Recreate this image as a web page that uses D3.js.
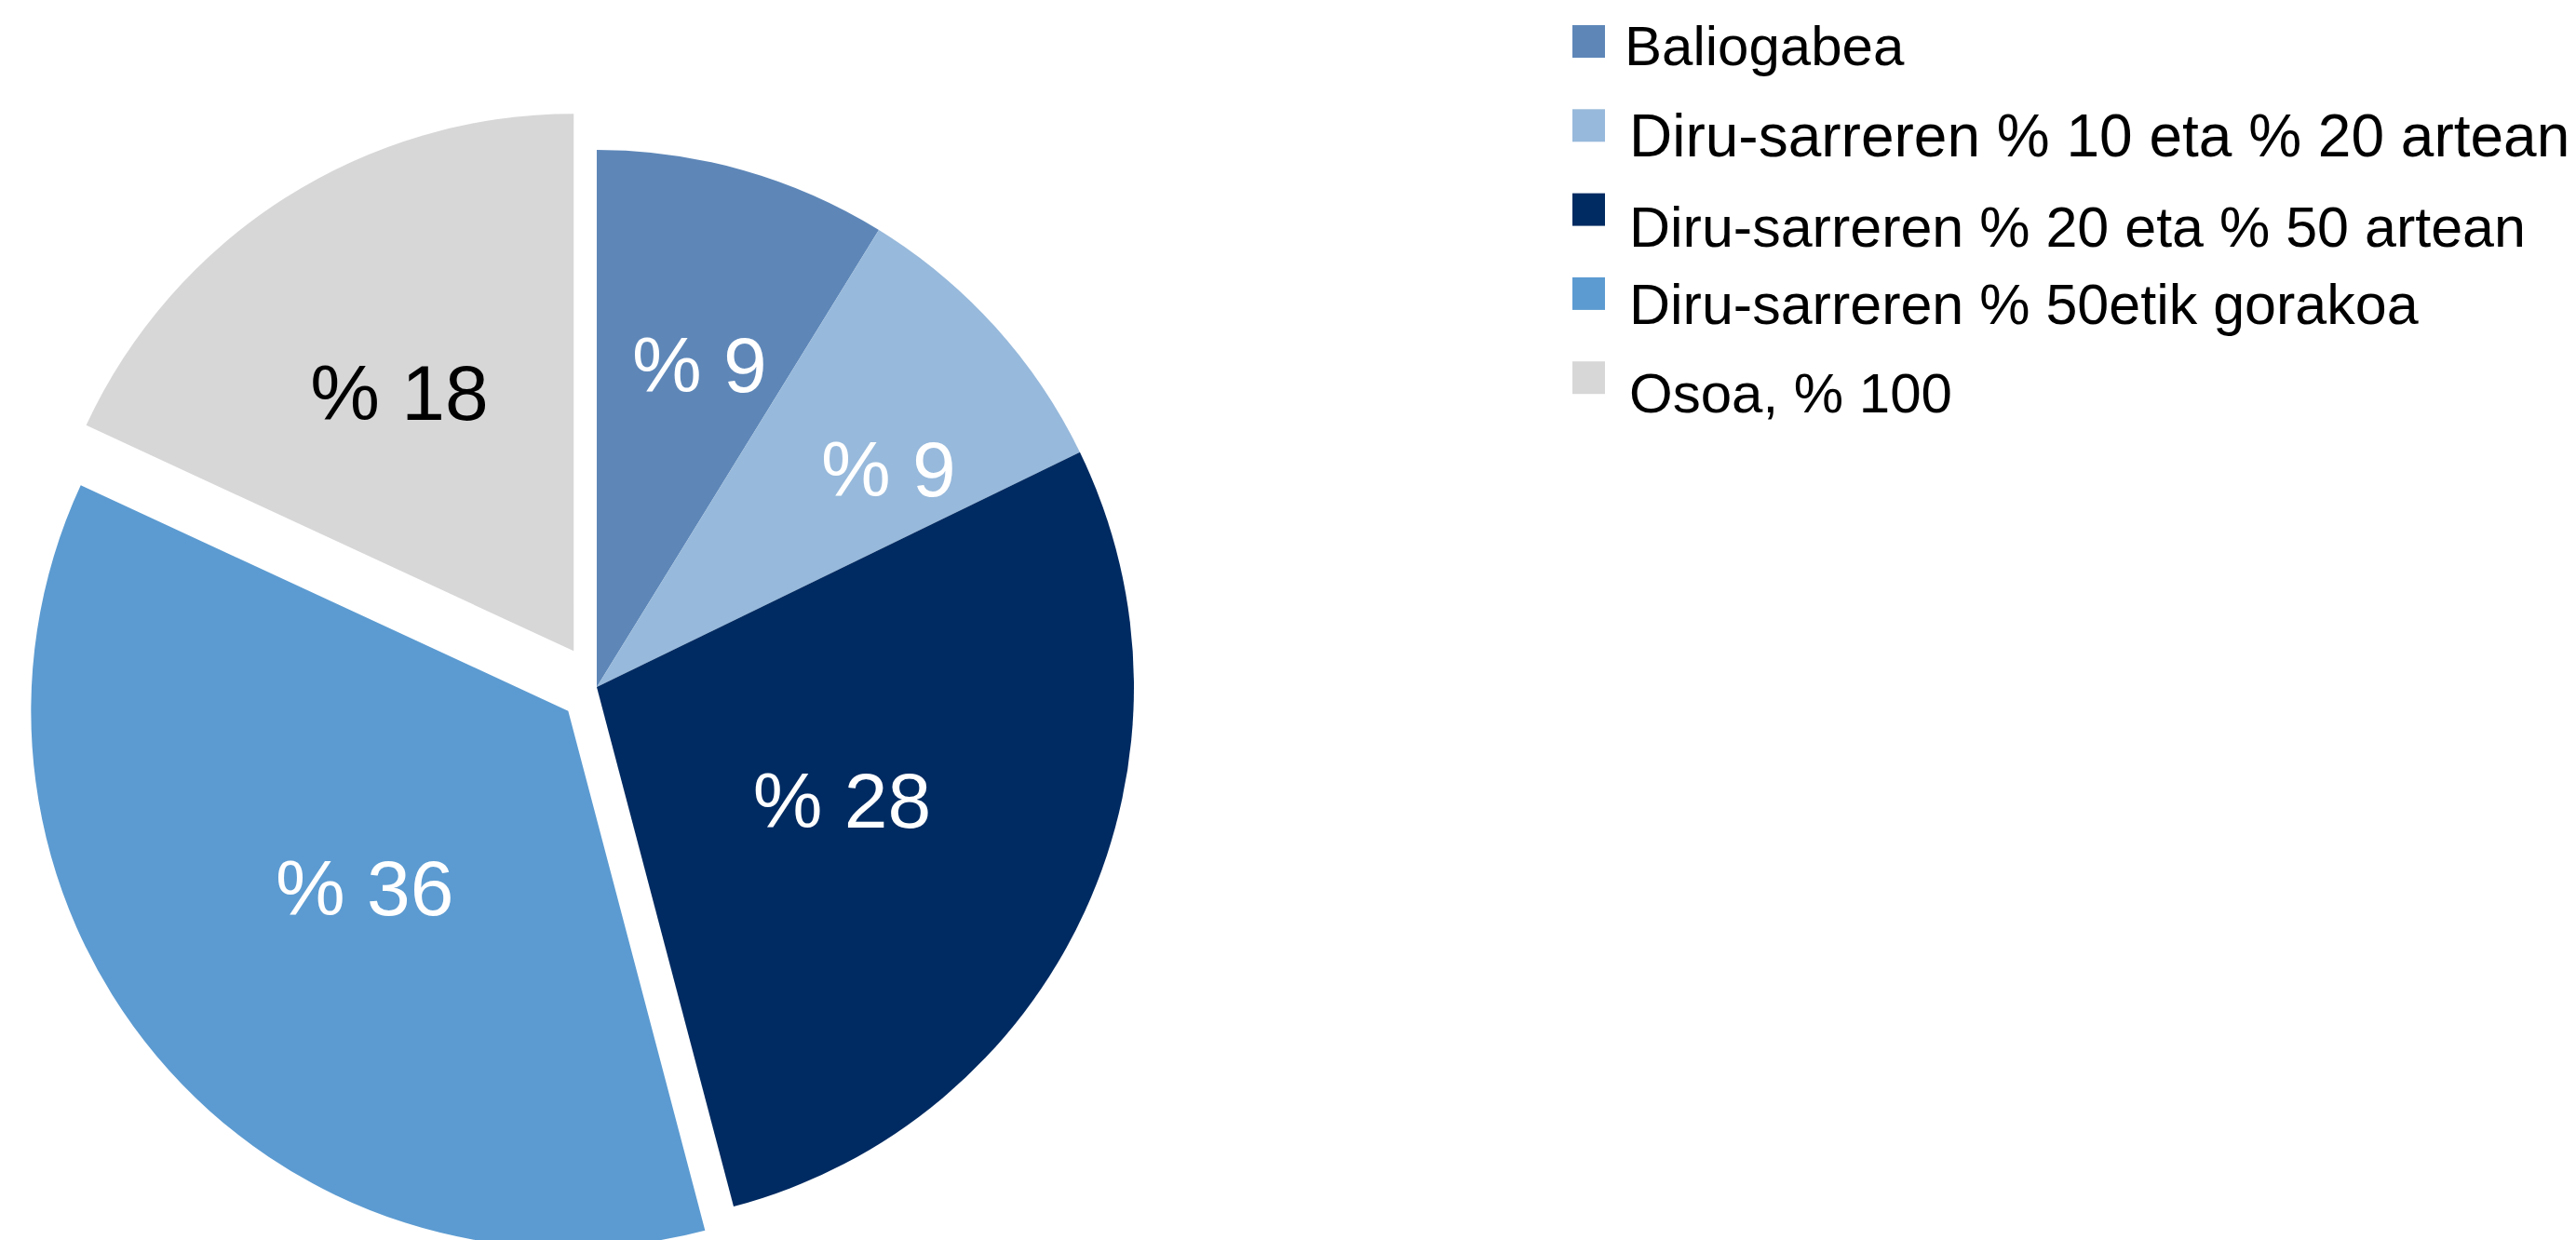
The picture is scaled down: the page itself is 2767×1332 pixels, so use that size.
<!DOCTYPE html>
<html>
<head>
<meta charset="utf-8">
<script src="https://cdn.jsdelivr.net/npm/d3@7"></script>
<style>
  html, body { margin: 0; padding: 0; background: #fff; }
  svg { display: block; font-family: "Liberation Sans", Arial, sans-serif; }
</style>
</head>
<body>
<div id="chart"></div>
<script>
// Chart data (slice shares; labels are the rounded values)
var categories = [
  "Baliogabea",
  "Diru-sarreren % 10 eta % 20 artean",
  "Diru-sarreren % 20 eta % 50 artean",
  "Diru-sarreren % 50etik gorakoa",
  "Osoa, % 100"
];
var values = [8.8, 9.0, 28.1, 36.0, 18.1];
var labels = ["% 9", "% 9", "% 28", "% 36", "% 18"];

// Styling
var colors = ["#5E87B8", "#97B9DB", "#002B62", "#5C9BD1", "#D7D7D7"];
var labelColors = ["#fff", "#fff", "#fff", "#fff", "#000"];
var explode = [0, 0, 0, 40, 46];          // how far each slice is pulled out
var labelRadius = [364, 392, 290, 289, 336];
var labelAngleShift = [1.8, 5.2, 0, -0.9, -1.3]; // degrees
var legendFont = [60, 64, 61, 61, 60];
var legendBaseline = [43, 51, 57, 50, 55];

function init() {
  var w = 2767, h = 1332;
  var cx = 641, cy = 738, radius = 577;

  var svg = d3.select("#chart").append("svg")
    .attr("width", w)
    .attr("height", h);

  // pie layout, starting at 12 o'clock, clockwise, in data order
  var pie = d3.pie().sort(null).value(function (d) { return d; });
  var arcs = pie(values);

  var arc = d3.arc().innerRadius(0).outerRadius(radius);

  var g = svg.append("g").attr("transform", "translate(" + cx + "," + cy + ")");

  var slices = g.selectAll("g.slice")
    .data(arcs)
    .enter()
    .append("g")
    .attr("class", "slice")
    .attr("transform", function (d, i) {
      var mid = (d.startAngle + d.endAngle) / 2;
      var dx = Math.sin(mid) * explode[i];
      var dy = -Math.cos(mid) * explode[i];
      return "translate(" + dx + "," + dy + ")";
    });

  slices.append("path")
    .attr("d", arc)
    .attr("fill", function (d, i) { return colors[i]; });

  // data labels inside the slices
  slices.append("text")
    .attr("x", function (d, i) {
      var a = (d.startAngle + d.endAngle) / 2 + labelAngleShift[i] * Math.PI / 180;
      return Math.sin(a) * labelRadius[i];
    })
    .attr("y", function (d, i) {
      var a = (d.startAngle + d.endAngle) / 2 + labelAngleShift[i] * Math.PI / 180;
      return -Math.cos(a) * labelRadius[i];
    })
    .attr("dy", "0.36em")
    .attr("text-anchor", "middle")
    .attr("font-size", 84)
    .attr("fill", function (d, i) { return labelColors[i]; })
    .text(function (d, i) { return labels[i]; });

  // legend
  var rowY = d3.scalePoint()
    .domain(categories)
    .range([27, 27 + 90.3 * (categories.length - 1)]);

  var legend = svg.append("g").attr("class", "legend");
  var rows = legend.selectAll("g")
    .data(categories)
    .enter()
    .append("g")
    .attr("transform", function (d) { return "translate(1689," + rowY(d) + ")"; });

  rows.append("rect")
    .attr("width", 35)
    .attr("height", 35)
    .attr("fill", function (d, i) { return colors[i]; });

  rows.append("text")
    .attr("x", function (d, i) { return i === 0 ? 56 : 61; })
    .attr("y", function (d, i) { return legendBaseline[i]; })
    .attr("font-size", function (d, i) { return legendFont[i]; })
    .attr("fill", "#000")
    .text(function (d) { return d; });
}

window.onload = init;
</script>
</body>
</html>
